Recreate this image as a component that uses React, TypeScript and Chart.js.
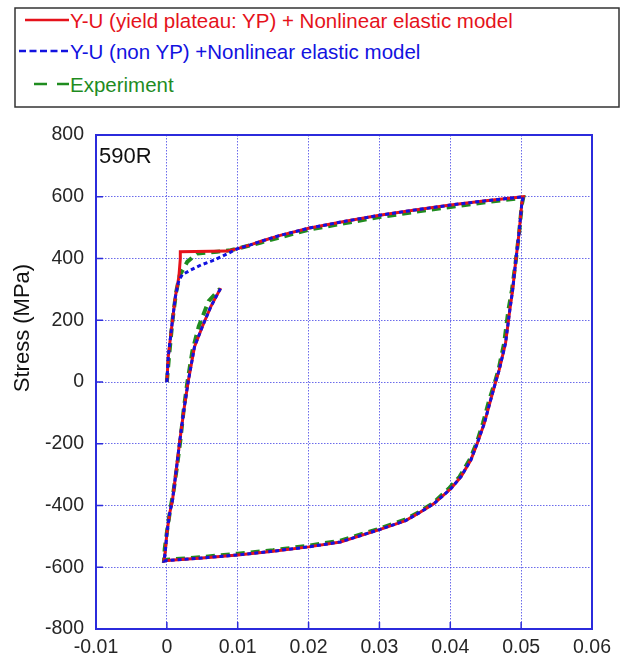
import React, { useEffect, useRef } from "react";
import { Chart, registerables } from "chart.js";

Chart.register(...registerables);

// ---------- data (strain [-], stress [MPa]) ----------
const xTicks = [-0.01, 0, 0.01, 0.02, 0.03, 0.04, 0.05, 0.06];
const yTicks = [-800, -600, -400, -200, 0, 200, 400, 600, 800];

const seriesLabels = [
  "Y-U (yield plateau: YP) + Nonlinear elastic model",
  "Y-U (non YP) +Nonlinear elastic model",
  "Experiment",
];
const panelLabel = "590R";
const yAxisTitle = "Stress (MPa)";

// shared forward hardening (after yielding)
const hardenStrain = [0.01, 0.0118, 0.0133, 0.016, 0.02, 0.025, 0.03, 0.035, 0.04, 0.045, 0.0503];
const hardenStress = [432, 444, 456, 475, 498, 520, 540, 557, 573, 587, 600];

// unloading + reverse loading
const unloadStrain = [0.0501, 0.0497, 0.0492, 0.0488, 0.0484, 0.0478, 0.0469, 0.0464, 0.0457, 0.0448, 0.0438, 0.0429, 0.0415, 0.0401, 0.0377, 0.0358, 0.0337, 0.03, 0.0245, 0.02, 0.015, 0.01, 0.005, 0.0, -0.0004];
const unloadStress = [580, 482, 384, 298, 233, 126, 39, 0, -58, -134, -199, -253, -307, -345, -394, -421, -449, -478, -518, -534, -548, -560, -570, -578, -580];

// reloading
const reloadStrain = [-0.0002, 0.0, 0.0004, 0.0008, 0.0013, 0.0018, 0.0024, 0.003, 0.0039, 0.005, 0.0062, 0.0076];
const reloadStress = [-544, -490, -425, -382, -290, -195, -91, 0, 114, 179, 244, 304];

// YP model initial loading
const ypLoadStrain = [0, 0.0002, 0.0008, 0.0012, 0.0017, 0.0019, 0.0019, 0.0085];
const ypLoadStress = [0, 82, 201, 276, 341, 400, 422, 424];

// non-YP model initial loading
const nonYpLoadStrain = [0, 0.0002, 0.0008, 0.0012, 0.0017, 0.0022, 0.0034, 0.0048, 0.0067, 0.0085];
const nonYpLoadStress = [0, 82, 201, 276, 330, 348, 363, 379, 395, 415];

// experiment
const expLoadStrain = [0, 0.0003, 0.0008, 0.0013, 0.0018, 0.0029, 0.0043, 0.0071, 0.009, 0.01, 0.0133, 0.02, 0.025, 0.03, 0.035, 0.04, 0.045, 0.0503];
const expLoadStress = [0, 80, 200, 290, 345, 390, 416, 422, 427, 432, 452, 493, 514, 534, 551, 567, 582, 597];
const expUnloadStrain = [0.0501, 0.0497, 0.0492, 0.0487, 0.0482, 0.0476, 0.0468, 0.0463, 0.0455, 0.0446, 0.0437, 0.0427, 0.0413, 0.0398, 0.0375, 0.0356, 0.0335, 0.03, 0.0245, 0.02, 0.015, 0.01, 0.005, 0.0, -0.0004];
const expUnloadStress = [575, 480, 384, 298, 233, 126, 39, 0, -58, -134, -199, -253, -307, -345, -394, -421, -447, -475, -514, -530, -545, -556, -567, -576, -578];
const expReloadStrain = [-0.0003, 0.0001, 0.0005, 0.0009, 0.0014, 0.0019, 0.0024, 0.0029, 0.0036, 0.0045, 0.0059, 0.0075];
const expReloadStress = [-540, -470, -410, -360, -280, -190, -85, 0, 100, 180, 262, 302];

const colors = { red: "#e5121b", blue: "#1212e0", green: "#1f8c1f" };
const FONT = "'Liberation Sans', Arial, sans-serif";

function pts(xs: number[], ys: number[]) {
  return xs.map((x, i) => ({ x, y: ys[i] }));
}

const framePlugin = {
  id: "frame",
  afterDraw(chart: any) {
    const { ctx, chartArea, scales } = chart;
    const { left, top, right, bottom } = chartArea;
    ctx.save();
    ctx.strokeStyle = "#2b2bdc";
    ctx.lineWidth = 2;
    ctx.strokeRect(left, top, right - left, bottom - top);
    ctx.lineWidth = 1.5;
    ctx.beginPath();
    xTicks.forEach((v) => {
      const px = scales.x.getPixelForValue(v);
      ctx.moveTo(px, bottom);
      ctx.lineTo(px, bottom - 7);
    });
    yTicks.forEach((v) => {
      const py = scales.y.getPixelForValue(v);
      ctx.moveTo(left, py);
      ctx.lineTo(left + 7, py);
    });
    ctx.stroke();
    ctx.fillStyle = "#111";
    ctx.font = `22px ${FONT}`;
    ctx.textAlign = "left";
    ctx.textBaseline = "middle";
    ctx.fillText(panelLabel, left + 3, top + 22);
    ctx.translate(23, 328);
    ctx.rotate(-Math.PI / 2);
    ctx.textAlign = "center";
    ctx.font = `22px ${FONT}`;
    ctx.fillText(yAxisTitle, 0, 0);
    ctx.restore();
  },
};

export default function App() {
  const ref = useRef<HTMLCanvasElement | null>(null);

  useEffect(() => {
    if (!ref.current) return;
    const red = [
      ...pts(ypLoadStrain, ypLoadStress),
      ...pts(hardenStrain, hardenStress),
      ...pts(unloadStrain, unloadStress),
      ...pts(reloadStrain, reloadStress),
    ];
    const blue = [
      ...pts(nonYpLoadStrain, nonYpLoadStress),
      ...pts(hardenStrain, hardenStress),
      ...pts(unloadStrain, unloadStress),
      ...pts(reloadStrain, reloadStress),
    ];
    const green = [
      ...pts(expLoadStrain, expLoadStress),
      ...pts(expUnloadStrain, expUnloadStress),
      ...pts(expReloadStrain, expReloadStress),
    ];
    const chart = new Chart(ref.current, {
      type: "scatter",
      data: {
        datasets: [
          { label: seriesLabels[1], data: blue, showLine: true, borderColor: colors.blue, borderWidth: 3, borderDash: [4, 3], pointRadius: 0, tension: 0 },
          { label: seriesLabels[0], data: red, showLine: true, borderColor: colors.red, borderWidth: 3, pointRadius: 0, tension: 0 },
          { label: seriesLabels[2], data: green, showLine: true, borderColor: colors.green, borderWidth: 4, borderDash: [9, 6], pointRadius: 0, tension: 0 },
        ],
      },
      options: {
        animation: false,
        responsive: false,
        layout: { padding: { top: 135, right: 34, left: 0, bottom: 0 } },
        plugins: { legend: { display: false }, tooltip: { enabled: false } },
        scales: {
          x: {
            type: "linear",
            min: -0.01,
            max: 0.06,
            afterBuildTicks: (s: any) => {
              s.ticks = xTicks.map((v) => ({ value: v }));
            },
            afterFit: (s: any) => {
              s.height = 30;
            },
            ticks: {
              padding: 7,
              color: "#262626",
              font: { family: FONT, size: 19.5 },
              maxRotation: 0,
              callback: (v: any) => String(Number(Number(v).toFixed(3))),
            },
            grid: { color: "rgba(70,70,230,0.8)", lineWidth: 1, drawTicks: false },
            border: { display: false, dash: [1.5, 1.5] },
          },
          y: {
            type: "linear",
            min: -800,
            max: 800,
            afterBuildTicks: (s: any) => {
              s.ticks = yTicks.map((v) => ({ value: v }));
            },
            afterFit: (s: any) => {
              s.width = 96;
            },
            ticks: {
              padding: 12,
              color: "#262626",
              font: { family: FONT, size: 19.5 },
              callback: (v: any) => String(v),
            },
            grid: { color: "rgba(70,70,230,0.8)", lineWidth: 1, drawTicks: false },
            border: { display: false, dash: [1.5, 1.5] },
          },
        },
      },
      plugins: [framePlugin],
    });
    return () => chart.destroy();
  }, []);

  const rowY = [20, 51, 84];
  return (
    <div style={{ position: "fixed", left: 0, top: 0, width: 626, height: 659, background: "#fff" }}>
      <canvas ref={ref} width={626} height={659} style={{ position: "absolute", left: 0, top: 0 }} />
      <svg width={626} height={112} style={{ position: "absolute", left: 0, top: 0 }}>
        <rect x={15} y={8} width={604} height={99} fill="#fff" stroke="#333" strokeWidth={1.5} />
        <line x1={25} y1={rowY[0]} x2={69} y2={rowY[0]} stroke={colors.red} strokeWidth={2.5} />
        <line x1={19} y1={rowY[1]} x2={69} y2={rowY[1]} stroke={colors.blue} strokeWidth={2.5} strokeDasharray="7 3.5" />
        <line x1={34} y1={rowY[2]} x2={69} y2={rowY[2]} stroke={colors.green} strokeWidth={2.5} strokeDasharray="13 10" />
        <text x={70} y={rowY[0]} fill={colors.red} fontFamily={FONT} fontSize={20.5} dominantBaseline="central">{seriesLabels[0]}</text>
        <text x={70} y={rowY[1]} fill={colors.blue} fontFamily={FONT} fontSize={20.5} dominantBaseline="central">{seriesLabels[1]}</text>
        <text x={70} y={rowY[2]} fill={colors.green} fontFamily={FONT} fontSize={20.5} dominantBaseline="central">{seriesLabels[2]}</text>
      </svg>
    </div>
  );
}
